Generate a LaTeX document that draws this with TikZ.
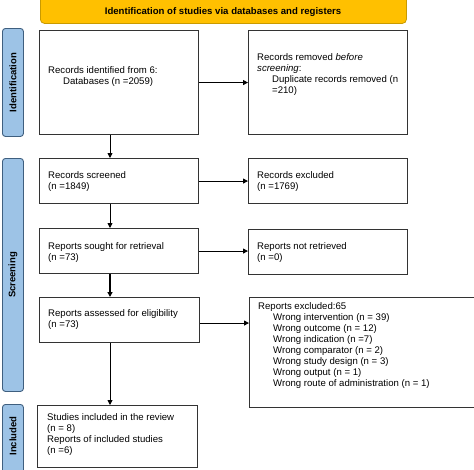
\documentclass[tikz,border=0pt]{standalone}
\usepackage{fontspec}
\setmainfont{Liberation Sans}
\usetikzlibrary{arrows.meta}
\definecolor{bannerfill}{HTML}{FFC000}
\definecolor{bannerdraw}{HTML}{C99A00}
\definecolor{sidefill}{HTML}{9DC3E6}
\definecolor{sidedraw}{HTML}{3F5F7F}
\definecolor{boxdraw}{HTML}{333333}
\begin{document}
\begin{tikzpicture}[x=1pt,y=-1pt,
  box/.style={draw=boxdraw,line width=1.1pt,fill=white,inner sep=0pt,anchor=north west},
  txt/.style={align=left,inner sep=0pt,anchor=west,font=\fontsize{9.6}{11}\selectfont},
  side/.style={draw=sidedraw,fill=sidefill,rounded corners=3pt,line width=0.9pt,inner sep=0pt,anchor=north west},
  sidetxt/.style={rotate=90,font=\fontsize{9.5}{10}\selectfont\bfseries,inner sep=0pt},
  arr/.style={-{Triangle[length=5pt,width=5pt]},line width=0.9pt,black}]
\useasboundingbox (0,0) rectangle (474,469);
\clip (0,0) rectangle (474,469);
% banner
\node[draw=bannerdraw,fill=bannerfill,rounded corners=4pt,line width=0.8pt,minimum width=366pt,minimum height=29pt,inner sep=0pt,anchor=north west] (banner) at (40,-6) {};
\node[font=\fontsize{9.6}{10}\selectfont\bfseries,inner sep=0pt] (bannertxt) at (223,12.5) {Identification of studies via databases and registers};
% side labels
\node[side,minimum width=21pt,minimum height=108pt] (sid) at (2,28) {};
\node[sidetxt] at (sid.center) {Identification};
\node[side,minimum width=21pt,minimum height=233pt] (ssc) at (2,158) {};
\node[sidetxt] at (ssc.center) {Screening};
\node[side,minimum width=21pt,minimum height=75pt] (sin) at (2,404) {};
\node[sidetxt] at ([yshift=6pt]sin.center) {Included};
% boxes
\node[box,minimum width=159pt,minimum height=104pt] (b1) at (39,30) {};
\node[txt] at ([xshift=9pt,yshift=6pt]b1.west) {Records identified from 6:\\\hspace*{15pt}Databases (n =2059)};
\node[box,minimum width=159pt,minimum height=104pt] (b2) at (248,30) {};
\node[txt] at ([xshift=9pt,yshift=8pt]b2.west) {Records removed \emph{before}\\\emph{screening}:\\\hspace*{15pt}Duplicate records removed (n\\\hspace*{15pt}=210)};
\node[box,minimum width=159pt,minimum height=45pt] (b3) at (39,158) {};
\node[txt] at ([xshift=9pt]b3.west) {Records screened\\(n =1849)};
\node[box,minimum width=159pt,minimum height=45pt] (b4) at (248,158) {};
\node[txt] at ([xshift=9pt]b4.west) {Records excluded\\(n =1769)};
\node[box,minimum width=159pt,minimum height=45pt] (b5) at (39,228) {};
\node[txt] at ([xshift=9pt,yshift=-1pt]b5.west) {Reports sought for retrieval\\(n =73)};
\node[box,minimum width=159pt,minimum height=45pt] (b6) at (248,229) {};
\node[txt] at ([xshift=9pt]b6.west) {Reports not retrieved\\(n =0)};
\node[box,minimum width=160pt,minimum height=45pt] (b7) at (39,297) {};
\node[txt] at ([xshift=9pt,yshift=1pt]b7.west) {Reports assessed for eligibility\\(n =73)};
\node[box,minimum width=226pt,minimum height=110pt] (b8) at (249,297) {};
\node[txt,anchor=north west] at ([xshift=9pt,yshift=-5pt]b8.north west) {Reports excluded:65\\
\hspace*{15pt}Wrong intervention (n = 39)\\
\hspace*{15pt}Wrong outcome (n = 12)\\
\hspace*{15pt}Wrong indication (n =7)\\
\hspace*{15pt}Wrong comparator (n = 2)\\
\hspace*{15pt}Wrong study design (n = 3)\\
\hspace*{15pt}Wrong output (n = 1)\\
\hspace*{15pt}Wrong route of administration (n = 1)};
\node[box,minimum width=160pt,minimum height=62pt] (b9) at (37,405) {};
\node[txt] at ([xshift=10pt,yshift=2pt]b9.west) {Studies included in the review\\(n = 8)\\Reports of included studies\\(n =6)};
% arrows
\draw[arr] (b1.east) -- (b2.west);
\draw[arr] (b3.east) -- (b4.west);
\draw[arr] (b5.east) -- (b6.west |- b5.east);
\draw[arr] ([yshift=-3pt]b7.east) -- ([yshift=-3pt]b8.west |- b7.east);
\draw[arr] (b1.south -| 110,0) -- (b3.north -| 110,0);
\draw[arr] (b3.south -| 110,0) -- (b5.north -| 110,0);
\draw[arr,line width=1.4pt] (b5.south -| 110,0) -- (b7.north -| 110,0);
\draw[arr] (b7.south -| 110,0) -- (b9.north -| 110,0);
\end{tikzpicture}
\end{document}
